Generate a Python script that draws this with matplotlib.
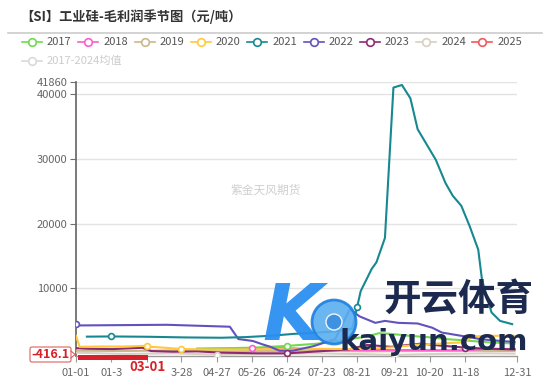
import numpy as np
import matplotlib
matplotlib.use("Agg")
import matplotlib.pyplot as plt
from matplotlib.patches import Rectangle, FancyBboxPatch, Circle

plt.rcParams['font.family'] = ['Noto Sans CJK SC', 'DejaVu Sans']

# ---------------- data (day of year, value in 元/吨) ----------------
tick_days = [0, 29, 59, 87, 116, 145, 174, 203, 232, 263, 292, 321, 364]
tick_labels = ["01-01", "01-3", "03-01", "3-28", "04-27", "05-26", "06-24",
               "07-23", "08-21", "09-21", "10-20", "11-18", "12-31"]
yticks = [10000, 20000, 30000, 40000, 41860]
y_min, y_max = -416.1, 41860

d2017 = [100, 130, 150, 175, 200, 220, 240, 250, 260, 275, 290, 305, 320, 340, 362]
v2017 = [700, 800, 900, 1150, 1500, 2000, 2600, 3100, 3000, 2700, 2500, 2200, 2000, 1700, 1500]

d2018 = [100, 146, 175, 200, 240, 280, 320, 340, 362]
v2018 = [700, 750, 800, 600, 500, 500, 450, 700, 650]

d2019 = [0, 40, 80, 120, 160, 200, 240, 280, 320, 362]
v2019 = [400, 350, 450, 300, 350, 400, 300, 350, 400, 350]

d2020 = [0, 3, 20, 40, 57, 62, 70, 88, 110, 140, 160, 180, 200, 220, 240, 260,
         280, 300, 320, 328, 340, 362]
v2020 = [2700, 1000, 1050, 1050, 1150, 1000, 900, 650, 600, 600, 650, 600, 700,
         650, 700, 900, 1300, 1500, 1700, 2600, 2700, 2700]

d2021 = [9, 29, 60, 90, 120, 140, 160, 180, 200, 215, 228, 235, 244, 248, 255,
         262, 269, 276, 282, 297, 305, 311, 318, 325, 332, 335, 338, 343, 350, 360]
v2021 = [2570, 2600, 2550, 2450, 2400, 2500, 2700, 3000, 3200, 3400, 3800, 9600,
         13000, 14050, 17800, 41000, 41400, 39340, 34570, 29850, 26260, 24300,
         22770, 19580, 16000, 11500, 9300, 6300, 5000, 4500]

d2022 = [0, 3, 75, 127, 134, 146, 154, 160, 168, 179, 196, 214, 226, 234, 247,
         255, 266, 282, 294, 302, 318, 335, 351, 362]
v2022 = [4560, 4300, 4400, 4100, 2200, 1900, 1380, 1030, 400, 400, 1100, 2200,
         6800, 5700, 4700, 5000, 4700, 4600, 3950, 3200, 2700, 2150, 1900, 1750]

d2023 = [0, 10, 30, 55, 62, 80, 100, 120, 150, 175, 200, 225, 240, 260, 285,
         300, 320, 340, 362]
v2023 = [800, 700, 650, 850, 350, 250, 300, 100, 0, 0, 300, 600, 1300, 1000,
         1500, 1200, 900, 700, 600]

d2024 = [0, 40, 80, 117, 160, 200, 240, 263, 300, 340, 362]
v2024 = [100, -100, 0, -200, -100, 0, -150, -250, -100, 0, -50]

series = ["2017", "2018", "2019", "2020", "2021", "2022", "2023", "2024", "2025"]
colors = {"2017": "#72d852", "2018": "#fb5fc8", "2019": "#c9b98a",
          "2020": "#ffc83d", "2021": "#178891", "2022": "#6252bd",
          "2023": "#8e2a72", "2024": "#d9cfc2", "2025": "#ee5a5f"}
data = {"2017": (d2017, v2017), "2018": (d2018, v2018), "2019": (d2019, v2019),
        "2020": (d2020, v2020), "2021": (d2021, v2021), "2022": (d2022, v2022),
        "2023": (d2023, v2023), "2024": (d2024, v2024)}
# which tick positions carry a hollow symbol for each series (style)
marker_ticks = {"2022": [0], "2021": [1, 8], "2020": [2, 3], "2024": [4, 9],
                "2018": [5], "2017": [6], "2023": [6, 11]}
pointer_tick = 2  # x axis pointer sits on this tick

# ---------------- figure ----------------
W, H = 550, 378
fig = plt.figure(figsize=(W / 100, H / 100), dpi=100)
L, R, T, B = 76, 517, 82, 356
ax = fig.add_axes([L / W, 1 - B / H, (R - L) / W, (B - T) / H])
ax.set_xlim(0, 364)
ax.set_ylim(y_min, y_max)

for yv in yticks:
    ax.axhline(yv, color="#e3e3e3", lw=1.0, zorder=0)

draw_order = ["2024", "2019", "2018", "2017", "2023", "2020", "2022", "2021"]
for s in draw_order:
    d, v = data[s]
    ax.plot(d, v, color=colors[s], lw=1.5, zorder=3, solid_joinstyle="round")
    for ti in marker_ticks.get(s, []):
        td = tick_days[ti]
        if d[0] <= td <= d[-1]:
            ax.plot([td], [np.interp(td, d, v)], marker="o", ms=4.2, mfc="white",
                    mec=colors[s], mew=1.2, zorder=4, ls="none")

for sp in ["top", "right"]:
    ax.spines[sp].set_visible(False)
ax.spines["left"].set_color("#6e6e6e")
ax.spines["left"].set_linewidth(1.3)
ax.spines["bottom"].set_color("#9a9a9a")
ax.spines["bottom"].set_linewidth(1.0)

ax.set_yticks(yticks)
ax.set_yticklabels([str(t) for t in yticks], fontsize=8, color="#666666")
ax.tick_params(axis="y", length=4, color="#6e6e6e", pad=2)
ax.set_xticks(tick_days)
shown_labels = ["" if i == pointer_tick else t for i, t in enumerate(tick_labels)]
ax.set_xticklabels(shown_labels, fontsize=8, color="#666666")
ax.tick_params(axis="x", length=4, color="#9a9a9a", pad=5)

# watermark inside plot
ax.text(0.5 * 364 - 25, 25200, "紫金天风期货", fontsize=8.5, color="#cfcfcf",
        ha="center", va="center", zorder=1)

# ---------------- overlay (pixel coordinates) ----------------
ov = fig.add_axes([0, 0, 1, 1], zorder=10)
ov.set_xlim(0, W)
ov.set_ylim(H, 0)
ov.axis("off")
ov.patch.set_alpha(0)

ov.text(20, 17, "【SI】工业硅-毛利润季节图（元/吨）", fontsize=9.5, fontweight="bold",
        color="#333333", ha="left", va="center")
ov.plot([8, 542], [33, 33], color="#cccccc", lw=1.2)

x0, step = 22, 56.3
for i, s in enumerate(series):
    xi = x0 + i * step
    ov.plot([xi, xi + 20], [42, 42], color=colors[s], lw=1.2)
    ov.plot([xi + 10], [42], marker="o", ms=5.5, mfc="white", mec=colors[s], mew=1.2)
    ov.text(xi + 25, 42, s, fontsize=8, color="#555555", ha="left", va="center")
ov.plot([22, 42], [61, 61], color="#d9d9d9", lw=1.2)
ov.plot([32], [61], marker="o", ms=5.5, mfc="white", mec="#d9d9d9", mew=1.2)
ov.text(47, 61, "2017-2024均值", fontsize=8, color="#cccccc", ha="left", va="center")

# axis pointer labels
ov.add_patch(Rectangle((78, 355), 70, 5, color="#d8202a", lw=0))
ov.text(147.5, 367, tick_labels[pointer_tick], fontsize=9.5, fontweight="bold",
        color="#d8202a", ha="center", va="center")
ov.add_patch(FancyBboxPatch((30, 347), 41, 15, boxstyle="round,pad=0,rounding_size=2",
                            fc="white", ec="#e06060", lw=0.8))
ov.plot([71, 75, 71], [351, 354.5, 358], color="#e06060", lw=0.8)
ov.text(50.5, 354.5, "-416.1", fontsize=9, fontweight="bold", color="#d8202a",
        ha="center", va="center")

# kaiyun logo watermark
ov.text(292, 318, "K", fontsize=56, fontweight="bold", fontstyle="italic",
        color="#2a8ff0", ha="center", va="center", alpha=0.95, family="DejaVu Sans")
ov.add_patch(Circle((334, 322), 22, fc="#5aaef0", ec="#1e7fe0", lw=2, alpha=0.9))
ov.add_patch(Circle((334, 322), 8, fc="#3b8fe0", ec="white", lw=1, alpha=0.9))
ov.text(458, 300, "开云体育", fontsize=27, fontweight="bold", color="#1c2a50",
        ha="center", va="center")
ov.text(434, 342, "kaiyun.com", fontsize=21, fontweight="bold", color="#1c2a50",
        ha="center", va="center", family="DejaVu Sans")

fig.savefig("out.png", dpi=100)
